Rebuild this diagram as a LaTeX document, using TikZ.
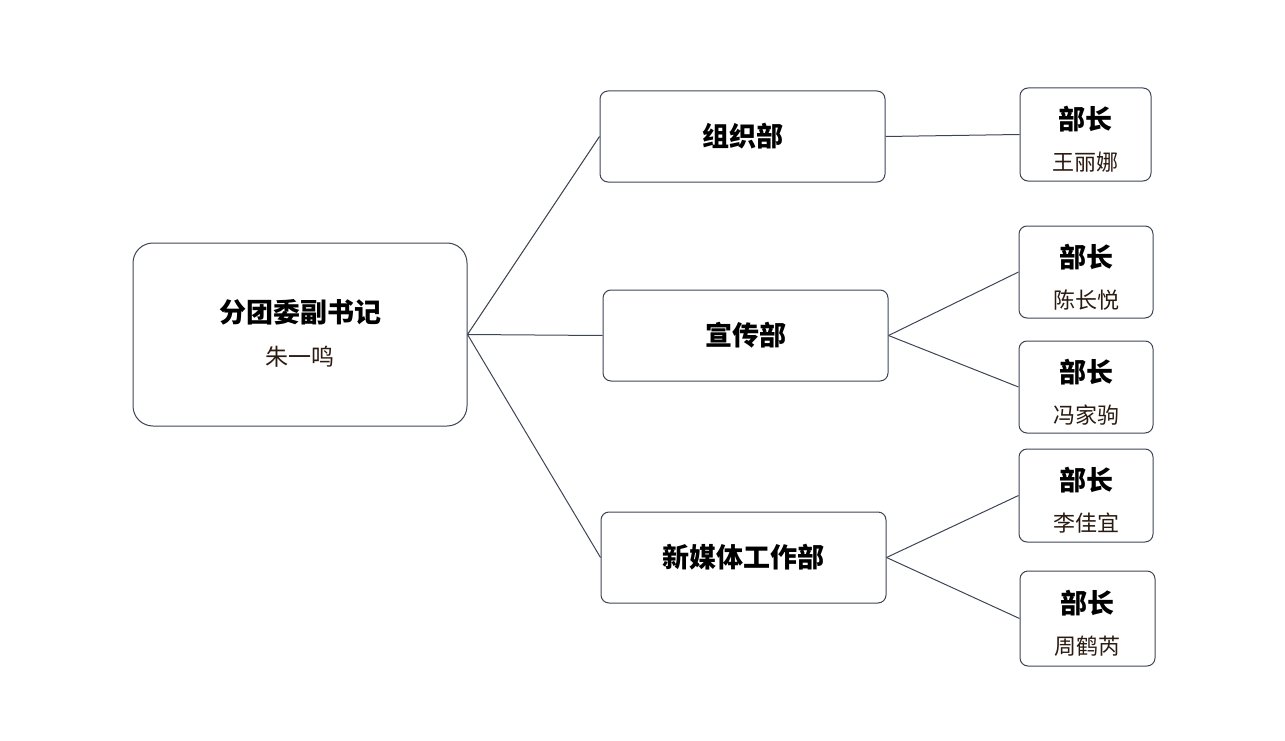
\documentclass[tikz,border=0pt]{standalone}
\usepackage{fontspec}
\setmainfont{Noto Sans CJK SC}
\definecolor{ln}{HTML}{3D4555}
\definecolor{nm}{HTML}{2A1A10}
\begin{document}
\begin{tikzpicture}[x=1pt,y=-1pt,
  box/.style={draw=ln,line width=1pt,rounded corners=8pt,fill=white,inner sep=0pt},
  t/.style={font=\fontsize{27}{30}\selectfont\bfseries},
  conn/.style={draw=ln,line width=1pt}]
\useasboundingbox (0,0) rectangle (1285,741);
\node[box,rounded corners=20pt,minimum width=334pt,minimum height=183pt] (r) at (300,334.5) {};
\node[t] (rt) at (300,312) {分团委副书记};
\node[font=\fontsize{23}{26}\selectfont,text=nm] (rn) at (300,357) {朱一鸣};
\node[box,t,minimum width=285pt,minimum height=91pt] (d1) at (742.5,136.5) {组织部};
\node[box,t,minimum width=285pt,minimum height=91pt] (d2) at (745.5,335.5) {宣传部};
\node[box,t,minimum width=285pt,minimum height=91pt] (d3) at (743.5,557.5) {新媒体工作部};
\foreach \n/\x/\y/\w/\h/\name in {l1/1085.5/134.5/131/93/王丽娜, l2/1086/272/134/92/陈长悦, l3/1086/387/134/92/冯家驹, l4/1086/495.5/134/93/李佳宜, l5/1087.5/618.5/135/95/周鹤芮}{
  \node[box,minimum width=\w pt,minimum height=\h pt] (\n) at (\x,\y) {};
  \node[t] (\n t) at (\x,\y-15) {部长};
  \node[font=\fontsize{22}{24}\selectfont,text=nm] (\n n) at (\x,\y+28) {\name};
}
\draw[conn] (r.east) -- (d1.west);
\draw[conn] (r.east) -- (d2.west);
\draw[conn] (r.east) -- (d3.west);
\draw[conn] (d1.east) -- (l1.west);
\draw[conn] (d2.east) -- (l2.west);
\draw[conn] (d2.east) -- (l3.west);
\draw[conn] (d3.east) -- (l4.west);
\draw[conn] (d3.east) -- (l5.west);
\end{tikzpicture}
\end{document}
